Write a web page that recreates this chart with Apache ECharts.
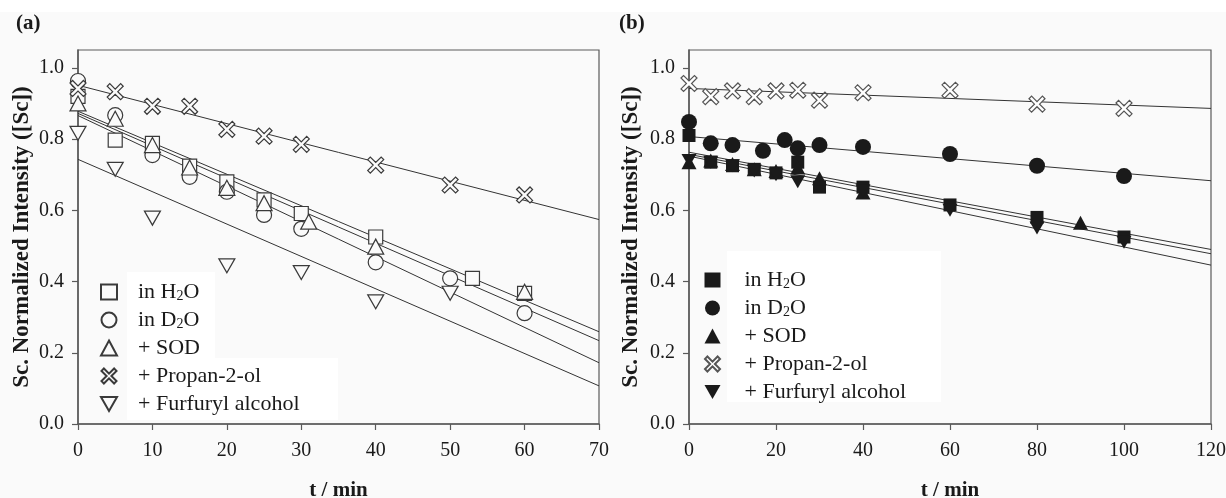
<!DOCTYPE html>
<html>
<head>
<meta charset="utf-8">
<script src="https://cdn.jsdelivr.net/npm/echarts@6/dist/echarts.min.js"></script>
<style>
  html, body { margin: 0; padding: 0; background: #fafafa; }
  #chart { width: 1226px; height: 498px; }
</style>
</head>
<body>
<div id="chart"></div>
<script>
/* jshint esversion: 6 */

// =====================================================================================================================
// Panel (a) : hollow symbols
let tA_H2O = [0, 5, 10, 15, 20, 25, 30, 40, 53, 60];
let yA_H2O = [0.92, 0.797, 0.788, 0.724, 0.68, 0.629, 0.591, 0.525, 0.409, 0.367];
let tA_D2O = [0, 5, 10, 15, 20, 25, 30, 40, 50, 60];
let yA_D2O = [0.963, 0.867, 0.755, 0.694, 0.652, 0.587, 0.548, 0.454, 0.409, 0.311];
let tA_SOD = [0, 5, 10, 15, 20, 25, 31, 40, 60];
let yA_SOD = [0.90, 0.857, 0.783, 0.72, 0.663, 0.62, 0.568, 0.498, 0.371];
let tA_Prop = [0, 5, 10, 15, 20, 25, 30, 40, 50, 60];
let yA_Prop = [0.942, 0.933, 0.892, 0.892, 0.827, 0.808, 0.785, 0.727, 0.671, 0.643];
let tA_Furf = [0, 5, 10, 20, 30, 40, 50];
let yA_Furf = [0.816, 0.715, 0.578, 0.444, 0.425, 0.343, 0.367];

// fit lines (a) : value at t = 0 and t = 70
let fitA_t = [0, 70];
let fitA_H2O = [0.878, 0.259];
let fitA_SOD = [0.872, 0.234];
let fitA_D2O = [0.866, 0.172];
let fitA_Furf = [0.743, 0.107];
let fitA_Prop = [0.951, 0.574];

// =====================================================================================================================
// Panel (b) : filled symbols
let tB_H2O = [0, 5, 10, 15, 20, 25, 30, 40, 60, 80, 100];
let yB_H2O = [0.81, 0.735, 0.725, 0.715, 0.705, 0.735, 0.665, 0.665, 0.615, 0.58, 0.525];
let tB_D2O = [0, 5, 10, 17, 22, 25, 30, 40, 60, 80, 100];
let yB_D2O = [0.848, 0.788, 0.783, 0.767, 0.797, 0.774, 0.783, 0.778, 0.758, 0.725, 0.696];
let tB_SOD = [0, 5, 10, 15, 20, 25, 30, 40, 90];
let yB_SOD = [0.735, 0.74, 0.73, 0.715, 0.71, 0.72, 0.69, 0.65, 0.565];
let tB_Prop = [0, 5, 10, 15, 20, 25, 30, 40, 60, 80, 100];
let yB_Prop = [0.956, 0.919, 0.935, 0.919, 0.935, 0.937, 0.909, 0.93, 0.937, 0.898, 0.886];
let tB_Furf = [0, 5, 10, 15, 20, 25, 40, 60, 80, 100];
let yB_Furf = [0.74, 0.735, 0.725, 0.71, 0.70, 0.68, 0.655, 0.60, 0.55, 0.51];

// fit lines (b) : value at t = 0 and t = 120
let fitB_t = [0, 120];
let fitB_H2O = [0.763, 0.49];
let fitB_SOD = [0.757, 0.478];
let fitB_Furf = [0.752, 0.446];
let fitB_D2O = [0.807, 0.683];
let fitB_Prop = [0.942, 0.886];

let yTicks = [0, 0.2, 0.4, 0.6, 0.8, 1.0];

// =====================================================================================================================
let font = 'Liberation Serif';
let ink = '#1a1a1a';
let axisGrey = '#5a5a5a';
let symX = 'path://M0,1.6 L1.6,0 L5,3.4 L8.4,0 L10,1.6 L6.6,5 L10,8.4 L8.4,10 L5,6.6 L1.6,10 L0,8.4 L3.4,5 Z';
let symDown = 'path://M0,0 L10,0 L5,8.66 Z';

let legendText = {
  'a-H2O': '{t|in H}{s|2}{t|O}',
  'a-D2O': '{t|in D}{s|2}{t|O}',
  'a-SOD': '{t|+ SOD}',
  'a-Prop': '{t|+ Propan-2-ol}',
  'a-Furf': '{t|+ Furfuryl alcohol}',
  'b-H2O': '{t|in H}{s|2}{t|O}',
  'b-D2O': '{t|in D}{s|2}{t|O}',
  'b-SOD': '{t|+ SOD}',
  'b-Prop': '{t|+ Propan-2-ol}',
  'b-Furf': '{t|+ Furfuryl alcohol}'
};

function zip(t, y) {
  return t.map(function (v, i) { return [v, y[i]]; });
}

function scatter(name, idx, t, y, symbol, size, fill, stroke) {
  return {
    name: name,
    type: 'scatter',
    xAxisIndex: idx,
    yAxisIndex: idx,
    symbol: symbol,
    symbolSize: size,
    data: zip(t, y),
    z: 5,
    itemStyle: { color: fill, borderColor: stroke, borderWidth: fill === ink ? 0 : 1.2, opacity: 1 }
  };
}

function fit(idx, t, y) {
  return {
    type: 'line',
    xAxisIndex: idx,
    yAxisIndex: idx,
    symbol: 'none',
    silent: true,
    z: 3,
    data: zip(t, y),
    lineStyle: { color: '#333', width: 1 }
  };
}

function legend(names, left, top, pad) {
  return {
    data: names,
    orient: 'vertical',
    left: left,
    top: top,
    itemWidth: 16,
    itemHeight: 15,
    itemGap: 6,
    selectedMode: false,
    formatter: function (name) { return legendText[name]; },
    textStyle: {
      padding: [0, 0, 0, pad],
      rich: {
        t: { fontFamily: font, fontSize: 22, color: ink, lineHeight: 22 },
        s: { fontFamily: font, fontSize: 14, color: ink, lineHeight: 10, verticalAlign: 'bottom' }
      }
    }
  };
}

function xAxis(idx, max, interval) {
  return {
    type: 'value',
    gridIndex: idx,
    min: 0,
    max: max,
    interval: interval,
    name: 't / min',
    nameLocation: 'middle',
    nameGap: 56,
    nameTextStyle: { fontFamily: font, fontSize: 21, fontWeight: 'bold', color: ink },
    axisLine: { show: true, onZero: false, lineStyle: { color: axisGrey, width: 1.5 } },
    axisTick: { show: true, inside: false, length: 6, lineStyle: { color: axisGrey, width: 1.2 } },
    axisLabel: { fontFamily: font, fontSize: 20, color: ink, margin: 17 },
    splitLine: { show: false }
  };
}

function yAxis(idx, gap) {
  return {
    type: 'value',
    gridIndex: idx,
    min: 0,
    max: 1.05,
    interval: 0.2,
    name: 'Sc. Normalized Intensity ([Sc])',
    nameLocation: 'middle',
    nameGap: gap,
    nameTextStyle: { fontFamily: font, fontSize: 23, fontWeight: 'bold', color: ink },
    axisLine: { show: true, onZero: false, lineStyle: { color: axisGrey, width: 1.5 } },
    axisTick: { show: true, inside: false, length: 6, customValues: yTicks, lineStyle: { color: axisGrey, width: 1.2 } },
    axisLabel: {
      fontFamily: font, fontSize: 20, color: ink, margin: 14, customValues: yTicks,
      formatter: function (v) { return v.toFixed(1); }
    },
    splitLine: { show: false }
  };
}

let hollow = '#fafafa';
let strokeA = '#3a3a3a';

// fond blanc derrière les légendes
function patch(x, y, w, h) {
  return { type: 'rect', z: 1, silent: true, shape: { x: x, y: y, width: w, height: h }, style: { fill: '#ffffff' } };
}

let option = {
  backgroundColor: '#fafafa',
  animation: false,
  grid: [
    { left: 78, right: 627, top: 50, bottom: 74, outerBoundsMode: 'none', show: true, borderColor: axisGrey, borderWidth: 1.2, backgroundColor: 'transparent' },
    { left: 689, right: 15, top: 50, bottom: 74, outerBoundsMode: 'none', show: true, borderColor: axisGrey, borderWidth: 1.2, backgroundColor: 'transparent' }
  ],
  xAxis: [xAxis(0, 70, 10), xAxis(1, 120, 20)],
  yAxis: [yAxis(0, 44), yAxis(1, 46)],
  legend: [
    legend(['a-H2O', 'a-D2O', 'a-SOD', 'a-Prop', 'a-Furf'], 95, 276, 16),
    legend(['b-H2O', 'b-D2O', 'b-SOD', 'b-Prop', 'b-Furf'], 699, 264, 19)
  ],
  graphic: [
    patch(0, 0, 1226, 12),
    patch(127, 272, 88, 86),
    patch(127, 358, 211, 62),
    patch(727, 251, 214, 151),
    { type: 'text', left: 16, top: 13, style: { text: '(a)', font: 'bold 21px "Liberation Serif"', fill: ink } },
    { type: 'text', left: 619, top: 13, style: { text: '(b)', font: 'bold 21px "Liberation Serif"', fill: ink } }
  ],
  series: [
    fit(0, fitA_t, fitA_H2O),
    fit(0, fitA_t, fitA_SOD),
    fit(0, fitA_t, fitA_D2O),
    fit(0, fitA_t, fitA_Furf),
    fit(0, fitA_t, fitA_Prop),
    scatter('a-H2O', 0, tA_H2O, yA_H2O, 'rect', 14, hollow, strokeA),
    scatter('a-D2O', 0, tA_D2O, yA_D2O, 'circle', 15, hollow, strokeA),
    scatter('a-SOD', 0, tA_SOD, yA_SOD, 'triangle', [16, 15], hollow, strokeA),
    scatter('a-Prop', 0, tA_Prop, yA_Prop, symX, 16, hollow, strokeA),
    scatter('a-Furf', 0, tA_Furf, yA_Furf, symDown, [16, 14], hollow, strokeA),

    fit(1, fitB_t, fitB_H2O),
    fit(1, fitB_t, fitB_SOD),
    fit(1, fitB_t, fitB_Furf),
    fit(1, fitB_t, fitB_D2O),
    fit(1, fitB_t, fitB_Prop),
    scatter('b-H2O', 1, tB_H2O, yB_H2O, 'rect', 13, ink, ink),
    scatter('b-D2O', 1, tB_D2O, yB_D2O, 'circle', 16, ink, ink),
    scatter('b-SOD', 1, tB_SOD, yB_SOD, 'triangle', [15, 14], ink, ink),
    scatter('b-Prop', 1, tB_Prop, yB_Prop, symX, 16, '#ffffff', '#555'),
    scatter('b-Furf', 1, tB_Furf, yB_Furf, symDown, [15, 13], ink, ink)
  ]
};

let chart = echarts.init(document.getElementById('chart'));
chart.setOption(option);
</script>
</body>
</html>
